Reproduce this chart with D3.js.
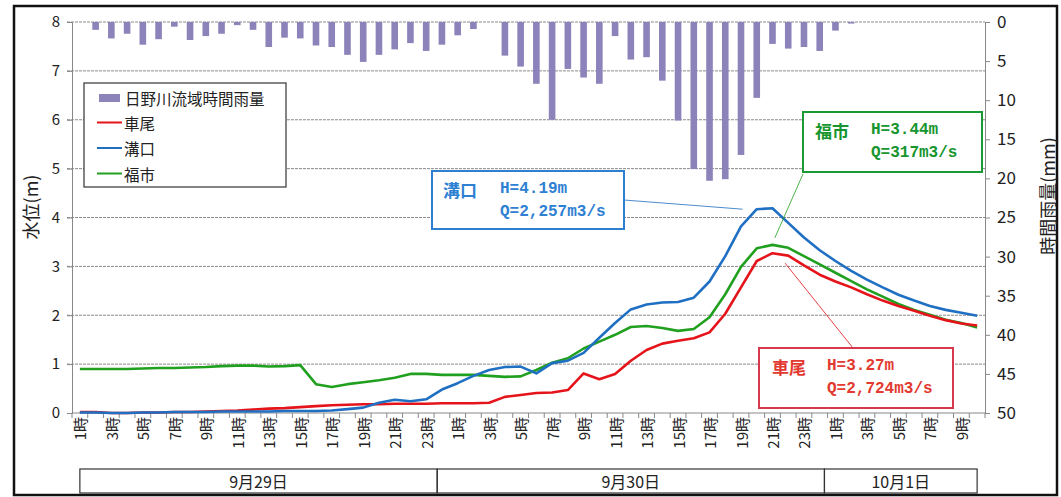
<body style="margin:0;background:#fff"></body>

<script src='https://d3js.org/d3.v7.min.js'></script>
<script>

    // 日野川流域 時間雨量と水位 (9/29 1時 〜 10/1 10時)
    var hours = [];
    for (var h = 0; h < 58; h++) hours.push(((h % 24) + 1) + "時");

    var days = ["9月29日", "9月30日", "10月1日"];

    var rain = [0, 1.0, 2.1, 1.5, 2.9, 2.2, 0.6, 2.3, 1.8, 1.5, 0.4, 1.0, 3.2, 2.0, 2.1, 3.0, 3.2, 4.2, 5.1, 4.2,
        3.5, 2.7, 3.7, 2.9, 1.7, 0.9, 0, 4.3, 5.7, 7.9, 12.5, 6.0, 7.1, 7.9, 1.8, 4.8, 4.5, 7.5, 12.6, 18.8,
        20.3, 20.1, 17.0, 9.7, 2.8, 3.4, 3.2, 3.7, 1.1, 0.2, 0, 0, 0, 0, 0, 0, 0, 0];

    // 車尾
    var shabi = [0.02, 0.02, 0.00, 0.00, 0.01, 0.01, 0.02, 0.02, 0.03, 0.04, 0.05, 0.07, 0.09, 0.10, 0.12, 0.14, 0.16, 0.17, 0.18, 0.18,
        0.19, 0.19, 0.19, 0.20, 0.20, 0.20, 0.21, 0.33, 0.37, 0.41, 0.42, 0.47, 0.81, 0.69, 0.80, 1.07, 1.29, 1.42, 1.48, 1.53,
        1.65, 2.03, 2.57, 3.11, 3.27, 3.22, 3.02, 2.83, 2.69, 2.57, 2.43, 2.30, 2.19, 2.09, 1.99, 1.90, 1.83, 1.79];

    // 溝口
    var mizokuchi = [0.01, 0.01, 0.00, 0.00, 0.01, 0.01, 0.02, 0.02, 0.02, 0.03, 0.03, 0.03, 0.03, 0.04, 0.04, 0.04, 0.05, 0.08, 0.11, 0.21,
        0.27, 0.24, 0.28, 0.48, 0.61, 0.76, 0.88, 0.94, 0.95, 0.81, 1.02, 1.07, 1.23, 1.54, 1.84, 2.12, 2.22, 2.26, 2.27, 2.36,
        2.69, 3.21, 3.82, 4.17, 4.19, 3.89, 3.59, 3.33, 3.11, 2.91, 2.73, 2.57, 2.42, 2.30, 2.19, 2.11, 2.05, 1.99];

    // 福市
    var fukuichi = [0.90, 0.90, 0.90, 0.90, 0.91, 0.92, 0.92, 0.93, 0.94, 0.96, 0.97, 0.97, 0.95, 0.96, 0.98, 0.59, 0.53, 0.59, 0.63, 0.67,
        0.72, 0.80, 0.80, 0.78, 0.78, 0.78, 0.76, 0.74, 0.75, 0.88, 1.03, 1.12, 1.32, 1.46, 1.60, 1.76, 1.78, 1.74, 1.68, 1.72,
        1.96, 2.43, 2.99, 3.37, 3.44, 3.38, 3.21, 3.04, 2.87, 2.70, 2.53, 2.38, 2.23, 2.11, 2.01, 1.91, 1.84, 1.75];

    var levelTicks = [0, 1, 2, 3, 4, 5, 6, 7, 8];
    var rainTicks = [0, 5, 10, 15, 20, 25, 30, 35, 40, 45, 50];

    var width = 1061, height = 497;
    var plotLeft = 72, plotRight = 985, plotTop = 22, plotBottom = 413;
    var jp = "'Noto Sans CJK JP', sans-serif";

    var svg = d3.select("body").append("svg")
        .attr("width", width).attr("height", height)
        .style("font-family", jp);

    var x = d3.scaleBand().domain(d3.range(hours.length)).range([plotLeft, plotRight]);
    var cx = function (i) { return x(i) + x.bandwidth() / 2; };
    var y = d3.scaleLinear().domain([0, 8]).range([plotBottom, plotTop]);
    var yR = d3.scaleLinear().domain([0, 50]).range([plotTop, plotBottom]);

    // frame
    svg.append("rect").attr("x", 14).attr("y", 6).attr("width", 1043).attr("height", 489)
        .attr("fill", "none").attr("stroke", "#111").attr("stroke-width", 2.5);

    // grid
    svg.append("g").selectAll("line").data(levelTicks.slice(1)).enter().append("line")
        .attr("x1", plotLeft - 5).attr("x2", plotRight).attr("y1", function (d) { return y(d); }).attr("y2", function (d) { return y(d); })
        .attr("stroke", "#8a8a8a").attr("stroke-width", 1).attr("stroke-dasharray", "3,1");

    // left axis
    var ax = svg.append("g").attr("transform", "translate(" + plotLeft + ",0)")
        .call(d3.axisLeft(y).tickValues(levelTicks).tickSize(5).tickFormat(d3.format("d")));
    ax.select(".domain").attr("stroke", "#888");
    ax.selectAll(".tick line").attr("stroke", "#888");
    ax.selectAll("text").attr("x", -12).style("font-size", "15px").style("font-family", jp).attr("fill", "#222");

    // right axis
    var ar = svg.append("g").attr("transform", "translate(" + plotRight + ",0)")
        .call(d3.axisRight(yR).tickValues(rainTicks).tickSize(5));
    ar.select(".domain").attr("stroke", "#888");
    ar.selectAll(".tick line").attr("stroke", "#888");
    ar.selectAll("text").attr("x", 12).style("font-size", "17px").style("font-family", jp).attr("fill", "#222");

    // bottom axis
    var ab = svg.append("g").attr("transform", "translate(0," + plotBottom + ")");
    ab.append("line").attr("x1", plotLeft).attr("x2", plotRight).attr("stroke", "#888");
    ab.selectAll(".tk").data(d3.range(hours.length + 1)).enter().append("line")
        .attr("x1", function (d) { return plotLeft + d * x.bandwidth(); })
        .attr("x2", function (d) { return plotLeft + d * x.bandwidth(); })
        .attr("y1", 0).attr("y2", 5).attr("stroke", "#888");
    ab.selectAll("text").data(hours).enter().append("text")
        .filter(function (d, i) { return i % 2 == 0; })
        .attr("transform", function (d, i) { return "translate(" + cx(i * 2) + ",4) rotate(-90)"; })
        .attr("text-anchor", "end").attr("dominant-baseline", "central")
        .style("font-size", "15px").attr("fill", "#222")
        .text(function (d) { return d; });

    // axis titles
    svg.append("text").attr("transform", "translate(30,207) rotate(-90)")
        .attr("text-anchor", "middle").attr("dominant-baseline", "central")
        .style("font-size", "18px").attr("fill", "#222").text("水位(m)");
    svg.append("text").attr("transform", "translate(1047,196) rotate(-90)")
        .attr("text-anchor", "middle").attr("dominant-baseline", "central")
        .style("font-size", "18px").attr("fill", "#222").text("時間雨量(mm)");

    // date boxes
    var dayEdges = [0, 22.7, 47.3, 57];
    var dx = function (f) { return cx(0) + f * x.bandwidth(); };
    svg.append("g").selectAll("rect").data(days).enter().append("rect")
        .attr("x", function (d, i) { return dx(dayEdges[i]); })
        .attr("width", function (d, i) { return dx(dayEdges[i + 1]) - dx(dayEdges[i]); })
        .attr("y", 469).attr("height", 24)
        .attr("fill", "none").attr("stroke", "#333").attr("stroke-width", 1.2);
    svg.append("g").selectAll("text").data(days).enter().append("text")
        .attr("x", function (d, i) { return (dx(dayEdges[i]) + dx(dayEdges[i + 1])) / 2; })
        .attr("y", 481).attr("text-anchor", "middle").attr("dominant-baseline", "central")
        .style("font-size", "16px").attr("fill", "#222").text(function (d) { return d; });

    // rain bars
    svg.append("g").selectAll("rect").data(rain).enter().append("rect")
        .attr("x", function (d, i) { return cx(i) - 3.3; })
        .attr("width", 6.6)
        .attr("y", yR(0))
        .attr("height", function (d) { return yR(d) - yR(0); })
        .attr("fill", "#8b83b9");

    // water level lines
    var line = d3.line().x(function (d, i) { return cx(i); }).y(function (d) { return y(d); });
    var series = [
        { name: "車尾", values: shabi, color: "#e5141b" },
        { name: "溝口", values: mizokuchi, color: "#1f6fc2" },
        { name: "福市", values: fukuichi, color: "#21a020" }
    ];
    svg.append("g").selectAll("path").data([series[2], series[0], series[1]]).enter().append("path")
        .attr("d", function (s) { return line(s.values); })
        .attr("fill", "none").attr("stroke", function (s) { return s.color; })
        .attr("stroke-width", 2.6).attr("stroke-linejoin", "round");

    // legend
    var lg = svg.append("g");
    lg.append("rect").attr("x", 84).attr("y", 83).attr("width", 202).attr("height", 104)
        .attr("fill", "#fff").attr("stroke", "#333").attr("stroke-width", 1.2);
    lg.append("rect").attr("x", 99).attr("y", 94).attr("width", 21).attr("height", 8).attr("fill", "#8b83b9");
    lg.append("text").attr("x", 125).attr("y", 98).attr("dominant-baseline", "central")
        .style("font-size", "15.5px").attr("fill", "#222").text("日野川流域時間雨量");
    series.forEach(function (s, i) {
        var ly = 122.5 + i * 25.5;
        lg.append("line").attr("x1", 97).attr("x2", 122).attr("y1", ly).attr("y2", ly)
            .attr("stroke", s.color).attr("stroke-width", 2);
        lg.append("text").attr("x", 124).attr("y", ly).attr("dominant-baseline", "central")
            .style("font-size", "15.5px").attr("fill", "#222").text(s.name);
    });

    // callouts
    var callouts = [
        { s: 1, box: [432, 171, 192, 58], from: [624, 200], idx: 42.1, h: "H=4.19m", q: "Q=2,257m3/s", stroke: "#2f7fd0", color: "#2e80d2", tx: 443, hx: 500, dy: 0 },
        { s: 2, box: [803, 112, 179, 60], from: [803, 174], idx: 44.15, h: "H=3.44m", q: "Q=317m3/s", stroke: "#1a9a34", color: "#17952e", tx: 815, hx: 871, dy: -7 },
        { s: 0, box: [759, 348, 194, 60], from: [853, 348], idx: 44.8, h: "H=3.27m", q: "Q=2,724m3/s", stroke: "#d8384e", color: "#e23a30", tx: 772, hx: 827, dy: 10 }
    ];
    callouts.forEach(function (c) {
        var i0 = Math.floor(c.idx), t = c.idx - i0;
        var vals = series[c.s].values;
        var tipY = y(Math.max(vals[i0], vals[i0 + 1])) + c.dy;
        var tipX = cx(i0) + t * x.bandwidth();
        svg.append("line").attr("x1", c.from[0]).attr("y1", c.from[1]).attr("x2", tipX).attr("y2", tipY)
            .attr("stroke", series[c.s].color).attr("stroke-width", 1).attr("opacity", 0.8);
        svg.append("rect").attr("x", c.box[0]).attr("y", c.box[1]).attr("width", c.box[2]).attr("height", c.box[3])
            .attr("fill", "#fff").attr("stroke", c.stroke).attr("stroke-width", 2);
        svg.append("text").attr("x", c.tx).attr("y", c.box[1] + 18).attr("dominant-baseline", "central")
            .style("font-size", "17px").style("font-weight", "bold").attr("fill", c.color).text(series[c.s].name);
        svg.append("text").attr("x", c.hx).attr("y", c.box[1] + 18).attr("dominant-baseline", "central")
            .style("font-family", "'Liberation Mono', monospace").style("font-size", "16px").style("font-weight", "bold")
            .attr("fill", c.color).text(c.h);
        svg.append("text").attr("x", c.hx).attr("y", c.box[1] + 41).attr("dominant-baseline", "central")
            .style("font-family", "'Liberation Mono', monospace").style("font-size", "16px").style("font-weight", "bold")
            .attr("fill", c.color).text(c.q);
    });

</script>
